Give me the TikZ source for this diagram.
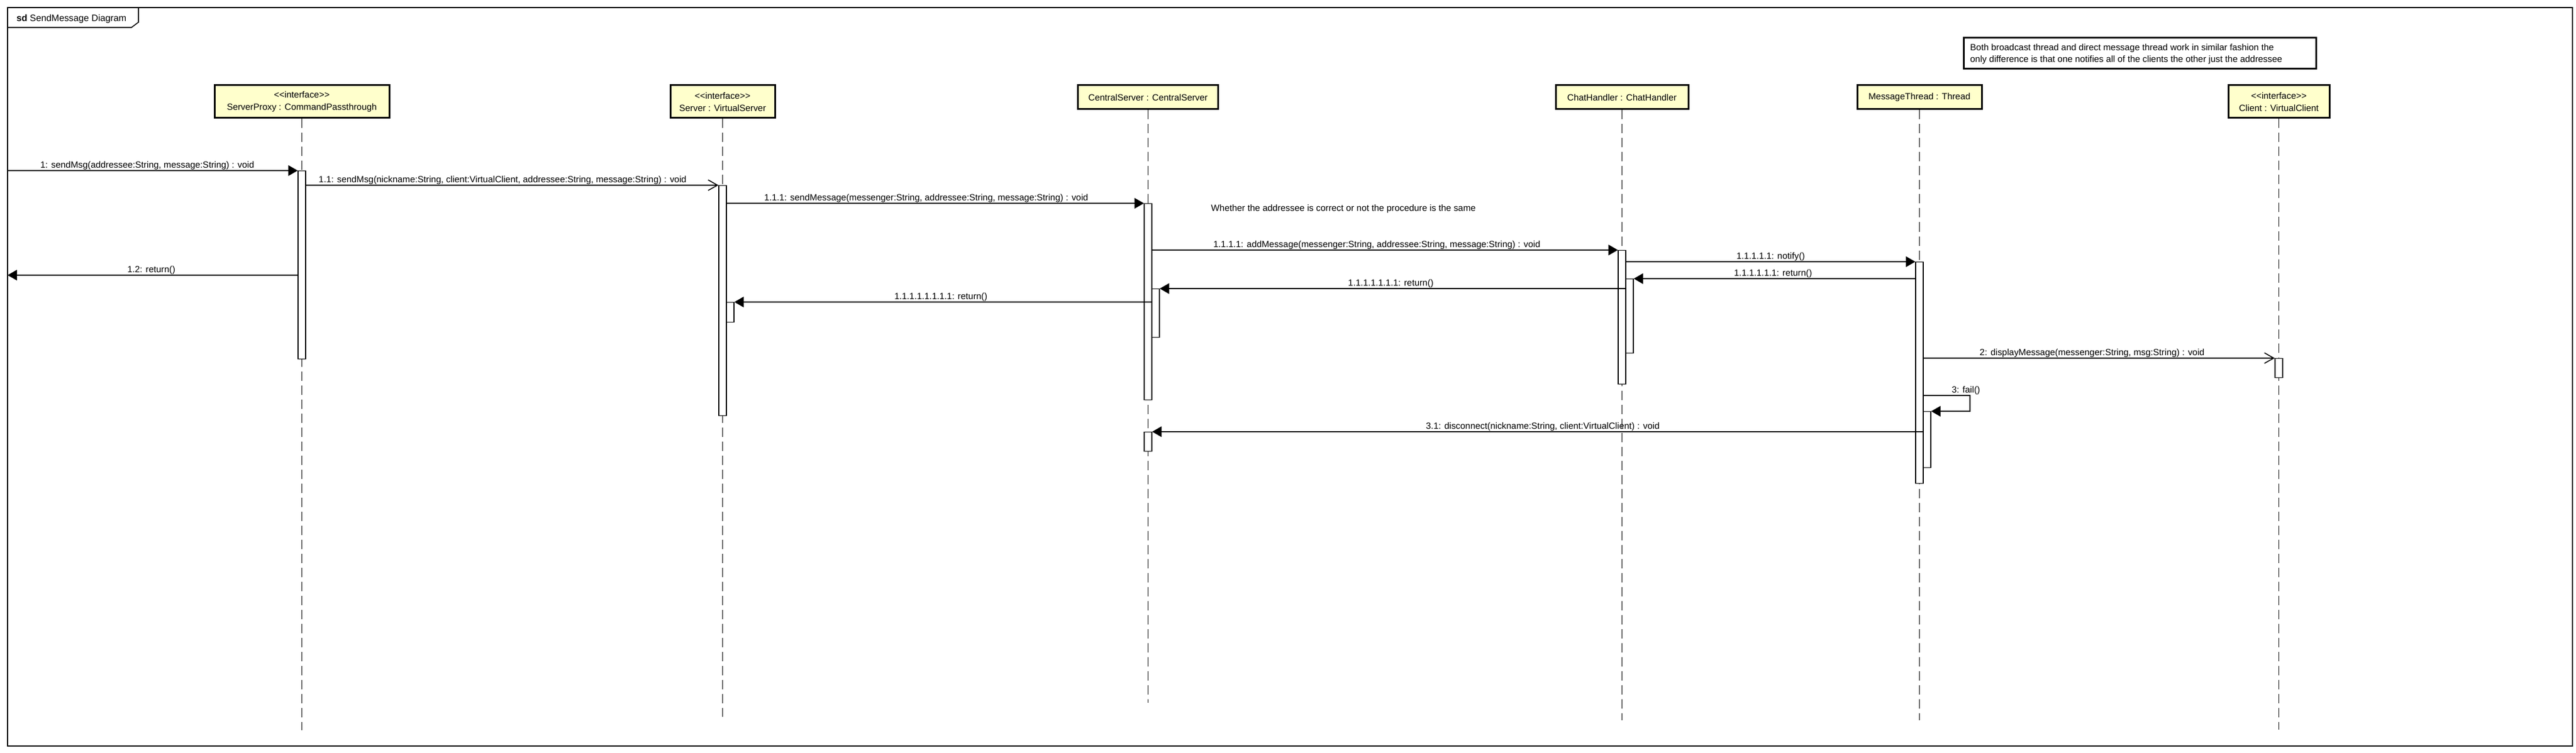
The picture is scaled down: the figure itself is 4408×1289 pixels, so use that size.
\documentclass[tikz,border=0pt]{standalone}
\usepackage{fontspec}
\setmainfont{Liberation Sans}
\usetikzlibrary{arrows.meta,calc}
\definecolor{objfill}{RGB}{255,255,204}
\begin{document}
\begin{tikzpicture}[x=0.5pt,y=-0.5pt,
  txt/.style={font=\fontsize{7.7}{10.5}\selectfont, inner sep=0pt},
  lbl/.style={txt, anchor=base},
  obj/.style={draw, line width=1.5pt, fill=objfill, inner sep=0pt, align=center,
              font=\fontsize{7.7}{10.5}\selectfont},
  life/.style={line width=0.6pt, dash pattern=on 8pt off 4pt},
  act/.style={draw, fill=white, line width=0.6pt, inner sep=0pt, minimum width=6.5pt, anchor=north},
  msg/.style={line width=0.8pt, -{Triangle[length=8pt,width=9pt]}},
  omsg/.style={line width=0.8pt, -{Straight Barb[length=8pt,width=9pt]}},
  framestyle/.style={line width=0.8pt},
  notebox/.style={draw, line width=1.5pt, fill=white, inner sep=0pt, anchor=north west}]

\useasboundingbox (0,0) rectangle (4408,1289);

% frame
\draw[framestyle] (13,13) rectangle (4402,1277);
\draw[framestyle] (13,47) -- (225,47) -- (237,38) -- (237,13);
\node[txt, anchor=base west, font=\fontsize{7.9}{10}\selectfont] (title) at (28,37) {\textbf{sd} SendMessage Diagram};

% lifeline end points
\coordinate (eSP) at (516.5,1250);
\coordinate (eSV) at (1236.5,1227);
\coordinate (eCS) at (1964.5,1203);
\coordinate (eCH) at (2775.5,1233);
\coordinate (eMT) at (3284.5,1233);
\coordinate (eCL) at (3899.5,1249);

% objects
\node[obj, minimum width=149.5pt, minimum height=28pt] (oSP) at (516.5,174) {{<}{<}interface{>}{>}\\ServerProxy : CommandPassthrough};
\node[obj, minimum width=89.5pt, minimum height=28pt] (oSV) at (1236.5,174) {{<}{<}interface{>}{>}\\Server : VirtualServer};
\node[obj, minimum width=120pt, minimum height=20.5pt] (oCS) at (1964.5,166.5) {CentralServer : CentralServer};
\node[obj, minimum width=113.5pt, minimum height=20.5pt] (oCH) at (2775.5,166.5) {ChatHandler : ChatHandler};
\node[obj, minimum width=106.5pt, minimum height=20.5pt] (oMT) at (3284.5,166.5) {MessageThread : Thread};
\node[obj, minimum width=86.5pt, minimum height=28pt] (oCL) at (3899.5,174) {{<}{<}interface{>}{>}\\Client : VirtualClient};

% lifelines
\draw[life] (oSP.south) -- (eSP);
\draw[life] (oSV.south) -- (eSV);
\draw[life] (oCS.south) -- (eCS);
\draw[life] (oCH.south) -- (eCH);
\draw[life] (oMT.south) -- (eMT);
\draw[life] (oCL.south) -- (eCL);

% activations
\node[act, minimum height=161pt] (aSP) at (516.5,292) {};
\node[act, minimum height=197pt] (aSV) at (1236.5,317) {};
\node[act, minimum height=17pt] (aSV2) at (1249.5,517) {};
\node[act, minimum height=168pt] (aCS) at (1964.5,348) {};
\node[act, minimum height=41.5pt] (aCS2) at (1977.5,494) {};
\node[act, minimum height=16.5pt] (aCS3) at (1964.5,739) {};
\node[act, minimum height=114.5pt] (aCH) at (2775.5,428) {};
\node[act, minimum height=63.5pt] (aCH2) at (2788.5,477) {};
\node[act, minimum height=189.5pt] (aMT) at (3284.5,448) {};
\node[act, minimum height=48pt] (aMT2) at (3297.5,704) {};
\node[act, minimum height=16.5pt] (aCL) at (3899.5,613) {};

% frame gates
\coordinate (g1) at (13,292);
\coordinate (g2) at (13,471);

% messages
\draw[msg] (g1) -- (aSP.north west);
\node[lbl] (l1) at (252,287.5) {1: sendMsg(addressee:String, message:String) : void};

\draw[omsg] (aSP.east |- 0,317) -- (aSV.north west);
\node[lbl] (l11) at (860,312.5) {1.1: sendMsg(nickname:String, client:VirtualClient, addressee:String, message:String) : void};

\draw[msg] (aSV.east |- 0,348) -- (aCS.north west);
\node[lbl] (l111) at (1585,343.5) {1.1.1: sendMessage(messenger:String, addressee:String, message:String) : void};

\node[txt, anchor=base west] (cmt) at (2072,361) {Whether the addressee is correct or not the procedure is the same};

\draw[msg] (aCS.east |- 0,428) -- (aCH.north west);
\node[lbl] (l1111) at (2356,423.5) {1.1.1.1: addMessage(messenger:String, addressee:String, message:String) : void};

\draw[msg] (aCH.east |- 0,448) -- (aMT.north west);
\node[lbl] (lnot) at (3030,443.5) {1.1.1.1.1: notify()};

\draw[msg] (aMT.west |- 0,477) -- (aCH2.north east);
\node[lbl] (lr6) at (3034,472.5) {1.1.1.1.1.1: return()};

\draw[msg] (aCH2.west |- 0,494) -- (aCS2.north east);
\node[lbl] (lr7) at (2380,489.5) {1.1.1.1.1.1.1: return()};

\draw[msg] (aCS.east |- 0,517) -- (aSV2.north east);
\node[lbl] (lr8) at (1610,512.5) {1.1.1.1.1.1.1.1: return()};

\draw[msg] (aSP.west |- 0,471) -- (g2);
\node[lbl] (l12) at (259,466.5) {1.2: return()};

\draw[omsg] (aMT.east |- 0,613) -- (aCL.north west);
\node[lbl] (l2) at (3580,608.5) {2: displayMessage(messenger:String, msg:String) : void};

\coordinate (f1) at (3371,677);
\coordinate (f2) at (3371,704);
\draw[msg] (aMT.east |- f1) -- (f1) -- (f2) -- (aMT2.north east);
\node[lbl] (l3) at (3364,672.5) {3: fail()};

\draw[msg] (aMT2.west |- 0,739) -- (aCS3.north east);
\node[lbl] (l31) at (2640,734.5) {3.1: disconnect(nickname:String, client:VirtualClient) : void};

% note
\node[notebox, minimum width=301.5pt, minimum height=26.5pt] (note) at (3359,63) {};
\node[txt, anchor=base west] (n1) at (3371,87) {Both broadcast thread and direct message thread work in similar fashion the};
\node[txt, anchor=base west] (n2) at (3371,107) {only difference is that one notifies all of the clients the other just the addressee};
\end{tikzpicture}
\end{document}
